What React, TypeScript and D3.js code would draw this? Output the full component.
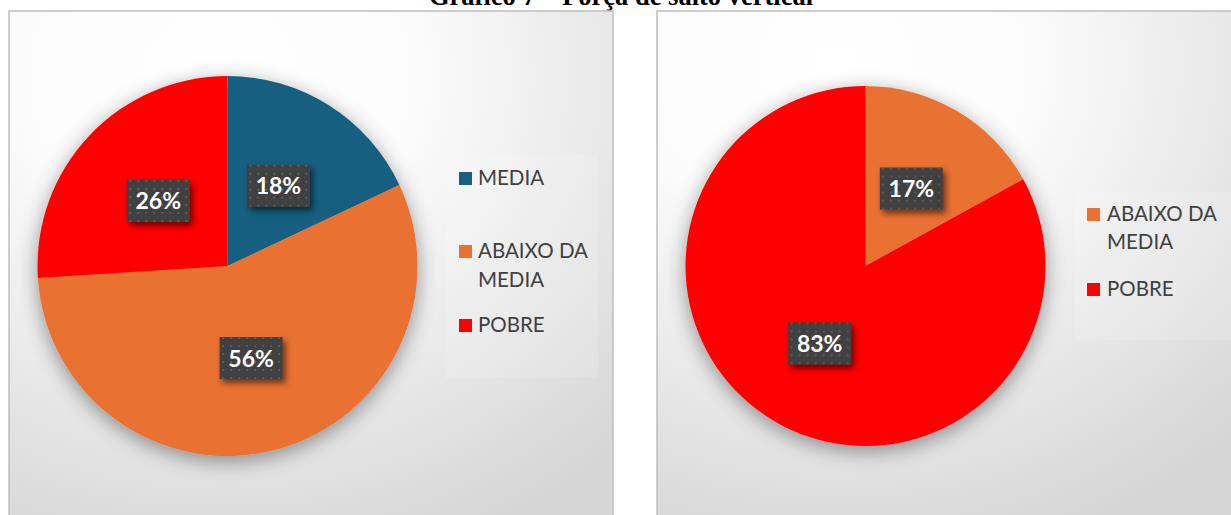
import React from "react";
import * as d3 from "d3";

const titleText = "Gráfico 7 – Força de salto vertical";

const leftCategories = ["MEDIA", "ABAIXO DA MEDIA", "POBRE"];
const leftValues = [18, 56, 26];
const leftColors = ["#195f80", "#e97132", "#ff0000"];

const rightCategories = ["ABAIXO DA MEDIA", "POBRE"];
const rightValues = [17, 83];
const rightColors = ["#e97132", "#ff0000"];

type PanelProps = {
  id: string;
  x: number;
  y: number;
  w: number;
  h: number;
  cx: number;
  cy: number;
  r: number;
  cats: string[];
  vals: number[];
  colors: string[];
  legend: { x: number; y: number; w: number; h: number; sqX: number; textX: number; rows: { sqY: number; lines: { text: string; baseline: number }[] }[] };
};

function splitLabel(c: string): string[] {
  if (c === "ABAIXO DA MEDIA") return ["ABAIXO DA", "MEDIA"];
  return [c];
}

function Panel(p: PanelProps) {
  const pie = d3.pie<number>().sort(null).value((d) => d);
  const arcs = pie(p.vals);
  const arc = d3.arc<d3.PieArcDatum<number>>().innerRadius(0).outerRadius(p.r);
  const labelArc = d3.arc<d3.PieArcDatum<number>>().innerRadius(p.r * 0.5).outerRadius(p.r * 0.5);
  const total = d3.sum(p.vals);
  return (
    <g>
      <rect x={p.x} y={p.y} width={p.w} height={p.h} fill={`url(#bg-${p.id})`} stroke="#bfbfbf" strokeWidth={1.5} />
      <g filter="url(#pieShadow)" transform={`translate(${p.cx},${p.cy})`}>
        {arcs.map((a, i) => (
          <path key={i} d={arc(a) || ""} fill={p.colors[i]} />
        ))}
      </g>
      <g transform={`translate(${p.cx},${p.cy})`}>
        {arcs.map((a, i) => {
          const [lx, ly] = labelArc.centroid(a);
          const txt = `${Math.round((p.vals[i] / total) * 100)}%`;
          const bw = 63;
          const bh = 42;
          return (
            <g key={i} transform={`translate(${lx},${ly})`}>
              <rect x={-bw / 2} y={-bh / 2} width={bw} height={bh} fill="#404040" filter="url(#boxShadow)" />
              <rect x={-bw / 2} y={-bh / 2} width={bw} height={bh} fill="url(#dots)" />
              <text x={0} y={8.5} textAnchor="middle" fontFamily="Lato, 'Open Sans', sans-serif" fontWeight={700} fontSize={23} fill="#ffffff">
                {txt}
              </text>
            </g>
          );
        })}
      </g>
      <rect x={p.legend.x} y={p.legend.y} width={p.legend.w} height={p.legend.h} fill="#ffffff" opacity={0.15} />
      {p.legend.rows.map((row, i) => (
        <g key={i}>
          <rect x={p.legend.sqX} y={row.sqY} width={13} height={13} fill={p.colors[i]} />
          {row.lines.map((ln, j) => (
            <text key={j} x={p.legend.textX} y={ln.baseline} fontFamily="Lato, 'Open Sans', sans-serif" fontSize={20.5} fill="#404040">
              {ln.text}
            </text>
          ))}
        </g>
      ))}
    </g>
  );
}

export default function App() {
  const leftLegendRows = leftCategories.map((c, i) => {
    const sqYs = [172, 245, 319];
    const lines = splitLabel(c).map((t, j) => ({ text: t, baseline: sqYs[i] + 13 + j * 29 }));
    return { sqY: sqYs[i], lines };
  });
  const rightLegendRows = rightCategories.map((c, i) => {
    const sqYs = [208, 283];
    const lines = splitLabel(c).map((t, j) => ({ text: t, baseline: sqYs[i] + 13 + j * 28 }));
    return { sqY: sqYs[i], lines };
  });
  return (
    <div style={{ position: "absolute", left: 0, top: 0 }}>
      <svg width={1231} height={515} style={{ display: "block" }}>
        <defs>
          <radialGradient id="bg-L" cx="0.35" cy="0.12" r="0.95" fx="0.35" fy="0.12">
            <stop offset="0" stopColor="#ffffff" />
            <stop offset="0.35" stopColor="#fbfbfb" />
            <stop offset="1" stopColor="#d6d6d6" />
          </radialGradient>
          <radialGradient id="bg-R" cx="0.3" cy="0.1" r="0.95" fx="0.3" fy="0.1">
            <stop offset="0" stopColor="#ffffff" />
            <stop offset="0.35" stopColor="#fbfbfb" />
            <stop offset="1" stopColor="#d6d6d6" />
          </radialGradient>
          <filter id="pieShadow" x="-30%" y="-30%" width="160%" height="160%">
            <feDropShadow dx={0} dy={5} stdDeviation={10} floodColor="#000" floodOpacity={0.4} />
          </filter>
          <filter id="boxShadow" x="-30%" y="-30%" width="170%" height="170%">
            <feDropShadow dx={3} dy={4} stdDeviation={3} floodColor="#000" floodOpacity={0.55} />
          </filter>
          <pattern id="dots" width={8} height={8} patternUnits="userSpaceOnUse">
            <rect x={3} y={3} width={2} height={2} fill="#5a5a5a" />
          </pattern>
        </defs>
        <rect x={0} y={0} width={1231} height={515} fill="#ffffff" />
        <text x={621} y={5} textAnchor="middle" fontFamily="'Liberation Serif', 'Times New Roman', serif" fontWeight={700} fontSize={26.5} fill="#000">
          {titleText}
        </text>
        <Panel
          id="L"
          x={9}
          y={11}
          w={604}
          h={530}
          cx={227.5}
          cy={266}
          r={190}
          cats={leftCategories}
          vals={leftValues}
          colors={leftColors}
          legend={{ x: 446, y: 155, w: 152, h: 223, sqX: 459, textX: 478, rows: leftLegendRows }}
        />
        <Panel
          id="R"
          x={657}
          y={11}
          w={600}
          h={530}
          cx={865.5}
          cy={266}
          r={180}
          cats={rightCategories}
          vals={rightValues}
          colors={rightColors}
          legend={{ x: 1075, y: 192, w: 170, h: 148, sqX: 1087, textX: 1107, rows: rightLegendRows }}
        />
      </svg>
    </div>
  );
}
